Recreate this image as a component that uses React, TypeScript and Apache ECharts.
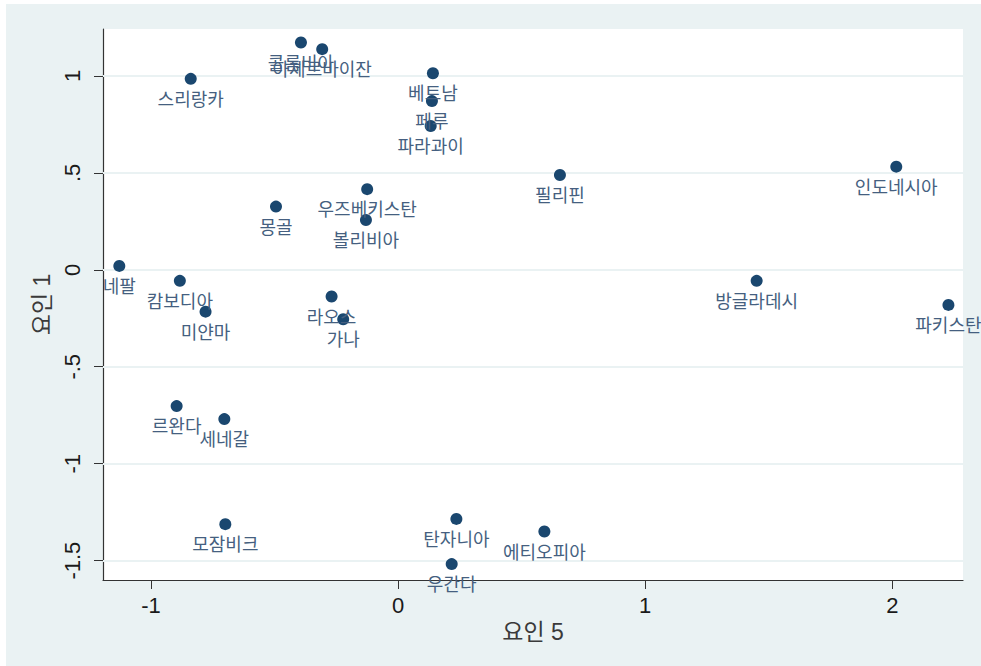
import React, { useEffect, useRef } from "react";
import * as echarts from "echarts";

const countries = [
  "콜롬비아", "아제르바이잔", "스리랑카", "베트남", "페루", "파라과이",
  "필리핀", "인도네시아", "몽골", "우즈베키스탄", "볼리비아", "네팔",
  "캄보디아", "미얀마", "라오스", "가나", "방글라데시", "파키스탄",
  "르완다", "세네갈", "모잠비크", "탄자니아", "에티오피아", "우간다",
];
const factor5 = [
  -0.393, -0.307, -0.839, 0.141, 0.137, 0.132,
  0.655, 2.016, -0.494, -0.125, -0.130, -1.128,
  -0.883, -0.779, -0.269, -0.222, 1.451, 2.227,
  -0.896, -0.703, -0.699, 0.236, 0.592, 0.217,
];
const factor1 = [
  1.172, 1.138, 0.985, 1.014, 0.870, 0.742,
  0.489, 0.532, 0.326, 0.416, 0.257, 0.020,
  -0.057, -0.216, -0.138, -0.255, -0.057, -0.181,
  -0.703, -0.770, -1.312, -1.285, -1.350, -1.518,
];
const xTickValues = [-1, 0, 1, 2];
const xTickLabels = ["-1", "0", "1", "2"];
const yTickValues = [1, 0.5, 0, -0.5, -1, -1.5];
const yTickLabels = ["1", ".5", "0", "-.5", "-1", "-1.5"];
const xTitle = "요인 5";
const yTitle = "요인 1";

export default function App() {
  const ref = useRef<HTMLDivElement>(null);
  useEffect(() => {
    if (!ref.current) return;
    const chart = echarts.init(ref.current, undefined, { renderer: "svg" });
    const points = countries.map((c, i) => ({ name: c, value: [factor5[i], factor1[i]] }));
    const fmt = (vals: number[], labels: string[]) => (v: number) => {
      const i = vals.findIndex((t) => Math.abs(t - v) < 1e-6);
      return i >= 0 ? labels[i] : "";
    };
    chart.setOption({
      animation: false,
      backgroundColor: "#ffffff",
      graphic: [
        {
          type: "rect",
          z: -100,
          silent: true,
          shape: { x: 6, y: 4, width: 975, height: 662 },
          style: { fill: "#eaf2f3" },
        },
      ],
      grid: {
        left: 103,
        top: 29,
        right: 18,
        bottom: 86,
        show: true,
        backgroundColor: "#ffffff",
        borderWidth: 0,
      },
      xAxis: {
        type: "value",
        min: -1.194,
        max: 2.286,
        name: xTitle,
        nameLocation: "middle",
        nameGap: 36,
        nameTextStyle: { fontSize: 23, color: "#3a3a3a", fontFamily: "Liberation Sans, Noto Sans CJK KR" },
        axisLine: { show: true, onZero: false, lineStyle: { color: "#333", width: 1.2 } },
        axisTick: { show: true, length: 9, customValues: xTickValues, lineStyle: { color: "#333" } },
        axisLabel: {
          customValues: xTickValues,
          formatter: fmt(xTickValues, xTickLabels),
          fontSize: 22,
          color: "#1a1a1a",
          margin: 14,
          fontFamily: "Liberation Sans",
        },
        splitLine: { show: false },
      },
      yAxis: {
        type: "value",
        min: -1.6,
        max: 1.242,
        name: yTitle,
        nameLocation: "middle",
        nameGap: 48,
        nameRotate: 90,
        nameTextStyle: { fontSize: 23, color: "#3a3a3a", fontFamily: "Liberation Sans, Noto Sans CJK KR" },
        axisLine: { show: true, onZero: false, lineStyle: { color: "#333", width: 1.2 } },
        axisTick: { show: true, length: 9, customValues: yTickValues, lineStyle: { color: "#333" } },
        axisLabel: {
          customValues: yTickValues,
          formatter: fmt(yTickValues, yTickLabels),
          rotate: 90,
          fontSize: 22,
          color: "#1a1a1a",
          margin: 20,
          fontFamily: "Liberation Sans",
        },
        splitLine: { show: false },
      },
      series: [
        {
          type: "line",
          data: [],
          z: 1,
          silent: true,
          markLine: {
            silent: true,
            symbol: "none",
            label: { show: false },
            lineStyle: { color: "#eaf2f3", width: 2, type: "solid" },
            data: yTickValues.map((v) => ({ yAxis: v })),
          },
        },
        {
          type: "scatter",
          z: 5,
          symbol: "circle",
          symbolSize: 12,
          itemStyle: { color: "#1a476f", opacity: 1 },
          data: points,
          label: {
            show: true,
            position: "bottom",
            distance: 4,
            formatter: (p: any) => p.name,
            fontSize: 18,
            color: "#455f80",
            fontFamily: "Noto Sans CJK KR",
          },
        },
      ],
    });
    return () => chart.dispose();
  }, []);
  return (
    <div
      ref={ref}
      style={{ position: "absolute", left: 0, top: 0, width: 981, height: 666 }}
    />
  );
}
